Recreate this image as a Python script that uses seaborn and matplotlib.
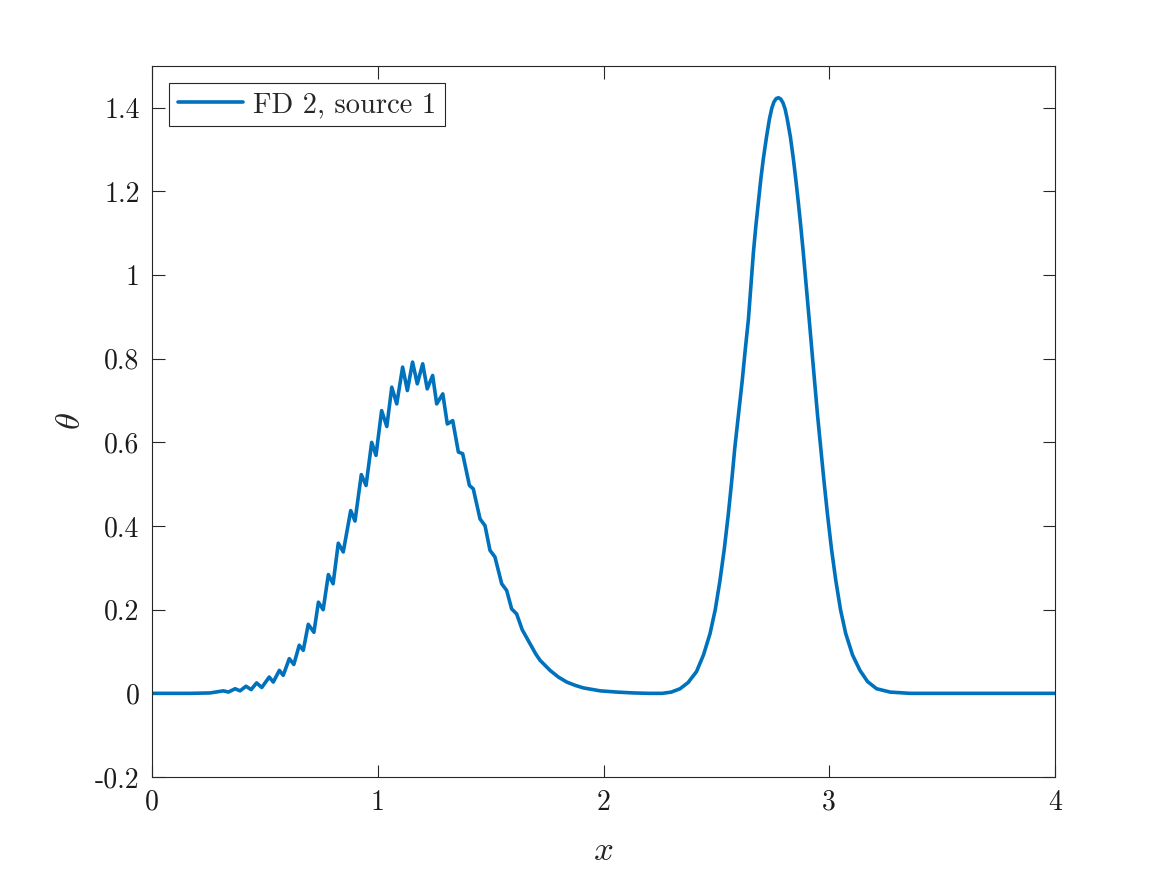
import numpy as np
import pandas as pd
import seaborn as sns
import matplotlib.pyplot as plt
from matplotlib.ticker import FuncFormatter

# values (x position, theta)
x_vals = [0.0, 0.17, 0.257, 0.316, 0.338, 0.368, 0.390, 0.416, 0.439, 0.463,
          0.486, 0.519, 0.537, 0.564, 0.581, 0.608, 0.628, 0.652, 0.670, 0.692,
          0.717, 0.737, 0.758, 0.781, 0.802, 0.825, 0.847, 0.880, 0.899, 0.927,
          0.948, 0.973, 0.992, 1.017, 1.040, 1.062, 1.084, 1.110, 1.131, 1.154,
          1.175, 1.199, 1.219, 1.243, 1.261, 1.288, 1.308, 1.332, 1.357, 1.376,
          1.406, 1.423, 1.453, 1.475, 1.497, 1.519, 1.549, 1.571, 1.593, 1.615,
          1.640, 1.667, 1.700, 1.719, 1.763, 1.800, 1.837, 1.875, 1.911, 1.985,
          2.060, 2.132, 2.200, 2.260, 2.300, 2.339, 2.375, 2.412, 2.443, 2.472,
          2.495, 2.516, 2.535, 2.553, 2.568, 2.582, 2.598, 2.614, 2.628, 2.642,
          2.653, 2.664, 2.675, 2.686, 2.697, 2.708, 2.722, 2.735, 2.746, 2.755,
          2.765, 2.775, 2.785, 2.795, 2.805, 2.814, 2.828, 2.841, 2.852, 2.863,
          2.874, 2.885, 2.898, 2.911, 2.923, 2.935, 2.948, 2.962, 2.977, 2.992,
          3.010, 3.029, 3.050, 3.073, 3.103, 3.136, 3.170, 3.210, 3.270, 3.358,
          4.0]
theta_vals = [0.0, 0.0, 0.001, 0.006, 0.003, 0.011, 0.006, 0.017, 0.009, 0.025,
              0.014, 0.039, 0.027, 0.055, 0.043, 0.083, 0.069, 0.115, 0.103, 0.165,
              0.146, 0.218, 0.200, 0.284, 0.262, 0.359, 0.338, 0.437, 0.412, 0.523,
              0.497, 0.600, 0.569, 0.676, 0.638, 0.732, 0.692, 0.780, 0.724, 0.792,
              0.740, 0.788, 0.728, 0.760, 0.692, 0.716, 0.644, 0.652, 0.577, 0.573,
              0.497, 0.489, 0.417, 0.401, 0.342, 0.326, 0.262, 0.246, 0.202, 0.190,
              0.152, 0.126, 0.094, 0.079, 0.055, 0.039, 0.027, 0.019, 0.013, 0.006,
              0.003, 0.001, 0.0, 0.0, 0.003, 0.011, 0.026, 0.052, 0.092, 0.143,
              0.200, 0.270, 0.345, 0.429, 0.508, 0.589, 0.667, 0.745, 0.822, 0.895,
              0.975, 1.054, 1.118, 1.174, 1.230, 1.278, 1.330, 1.373, 1.400, 1.414,
              1.422, 1.424, 1.421, 1.412, 1.396, 1.373, 1.330, 1.278, 1.228, 1.174,
              1.116, 1.054, 0.975, 0.895, 0.820, 0.745, 0.666, 0.589, 0.506, 0.429,
              0.345, 0.270, 0.200, 0.143, 0.092, 0.055, 0.028, 0.011, 0.003, 0.0,
              0.0]

x_ticks = [0, 1, 2, 3, 4]
y_ticks = [-0.2, 0, 0.2, 0.4, 0.6, 0.8, 1, 1.2, 1.4]

df = pd.DataFrame({"x": x_vals, "theta": theta_vals})

sns.set_style("ticks")
plt.rcParams["mathtext.fontset"] = "cm"
plt.rcParams["font.family"] = ["cmr10", "DejaVu Serif"]
plt.rcParams["axes.unicode_minus"] = False

fig = plt.figure(figsize=(11.67, 8.75), dpi=100)
ax = fig.add_axes([0.1303, 0.112, 0.7737, 0.8126])

sns.lineplot(data=df, x="x", y="theta", estimator=None, sort=False,
             color="#0072BD", linewidth=2.6, ax=ax,
             label="FD 2, source 1")

ax.set_xlim(0, 4)
ax.set_ylim(-0.2, 1.5)
ax.set_xticks(x_ticks)
ax.set_yticks(y_ticks)
ax.xaxis.set_major_formatter(FuncFormatter(lambda v, p: "%g" % v))
ax.yaxis.set_major_formatter(FuncFormatter(lambda v, p: "%g" % v))
ax.tick_params(direction="in", length=9, width=0.8, labelsize=20,
               top=True, right=True, pad=9, colors="#262626")
ax.tick_params(labelcolor="#1a1a1a")
for s in ax.spines.values():
    s.set_linewidth(0.8)
    s.set_color("#262626")

ax.set_xlabel(r"$x$", fontsize=25, labelpad=14)
ax.set_ylabel(r"$\theta$", fontsize=25, labelpad=6)

leg = ax.legend(loc="upper left", fontsize=20.5, handlelength=2.3,
                fancybox=False, framealpha=1, borderaxespad=0.6,
                borderpad=0.3, handletextpad=0.35)
leg.get_frame().set_edgecolor("#262626")
leg.get_frame().set_linewidth(0.8)

plt.savefig("out.png", dpi=100)
